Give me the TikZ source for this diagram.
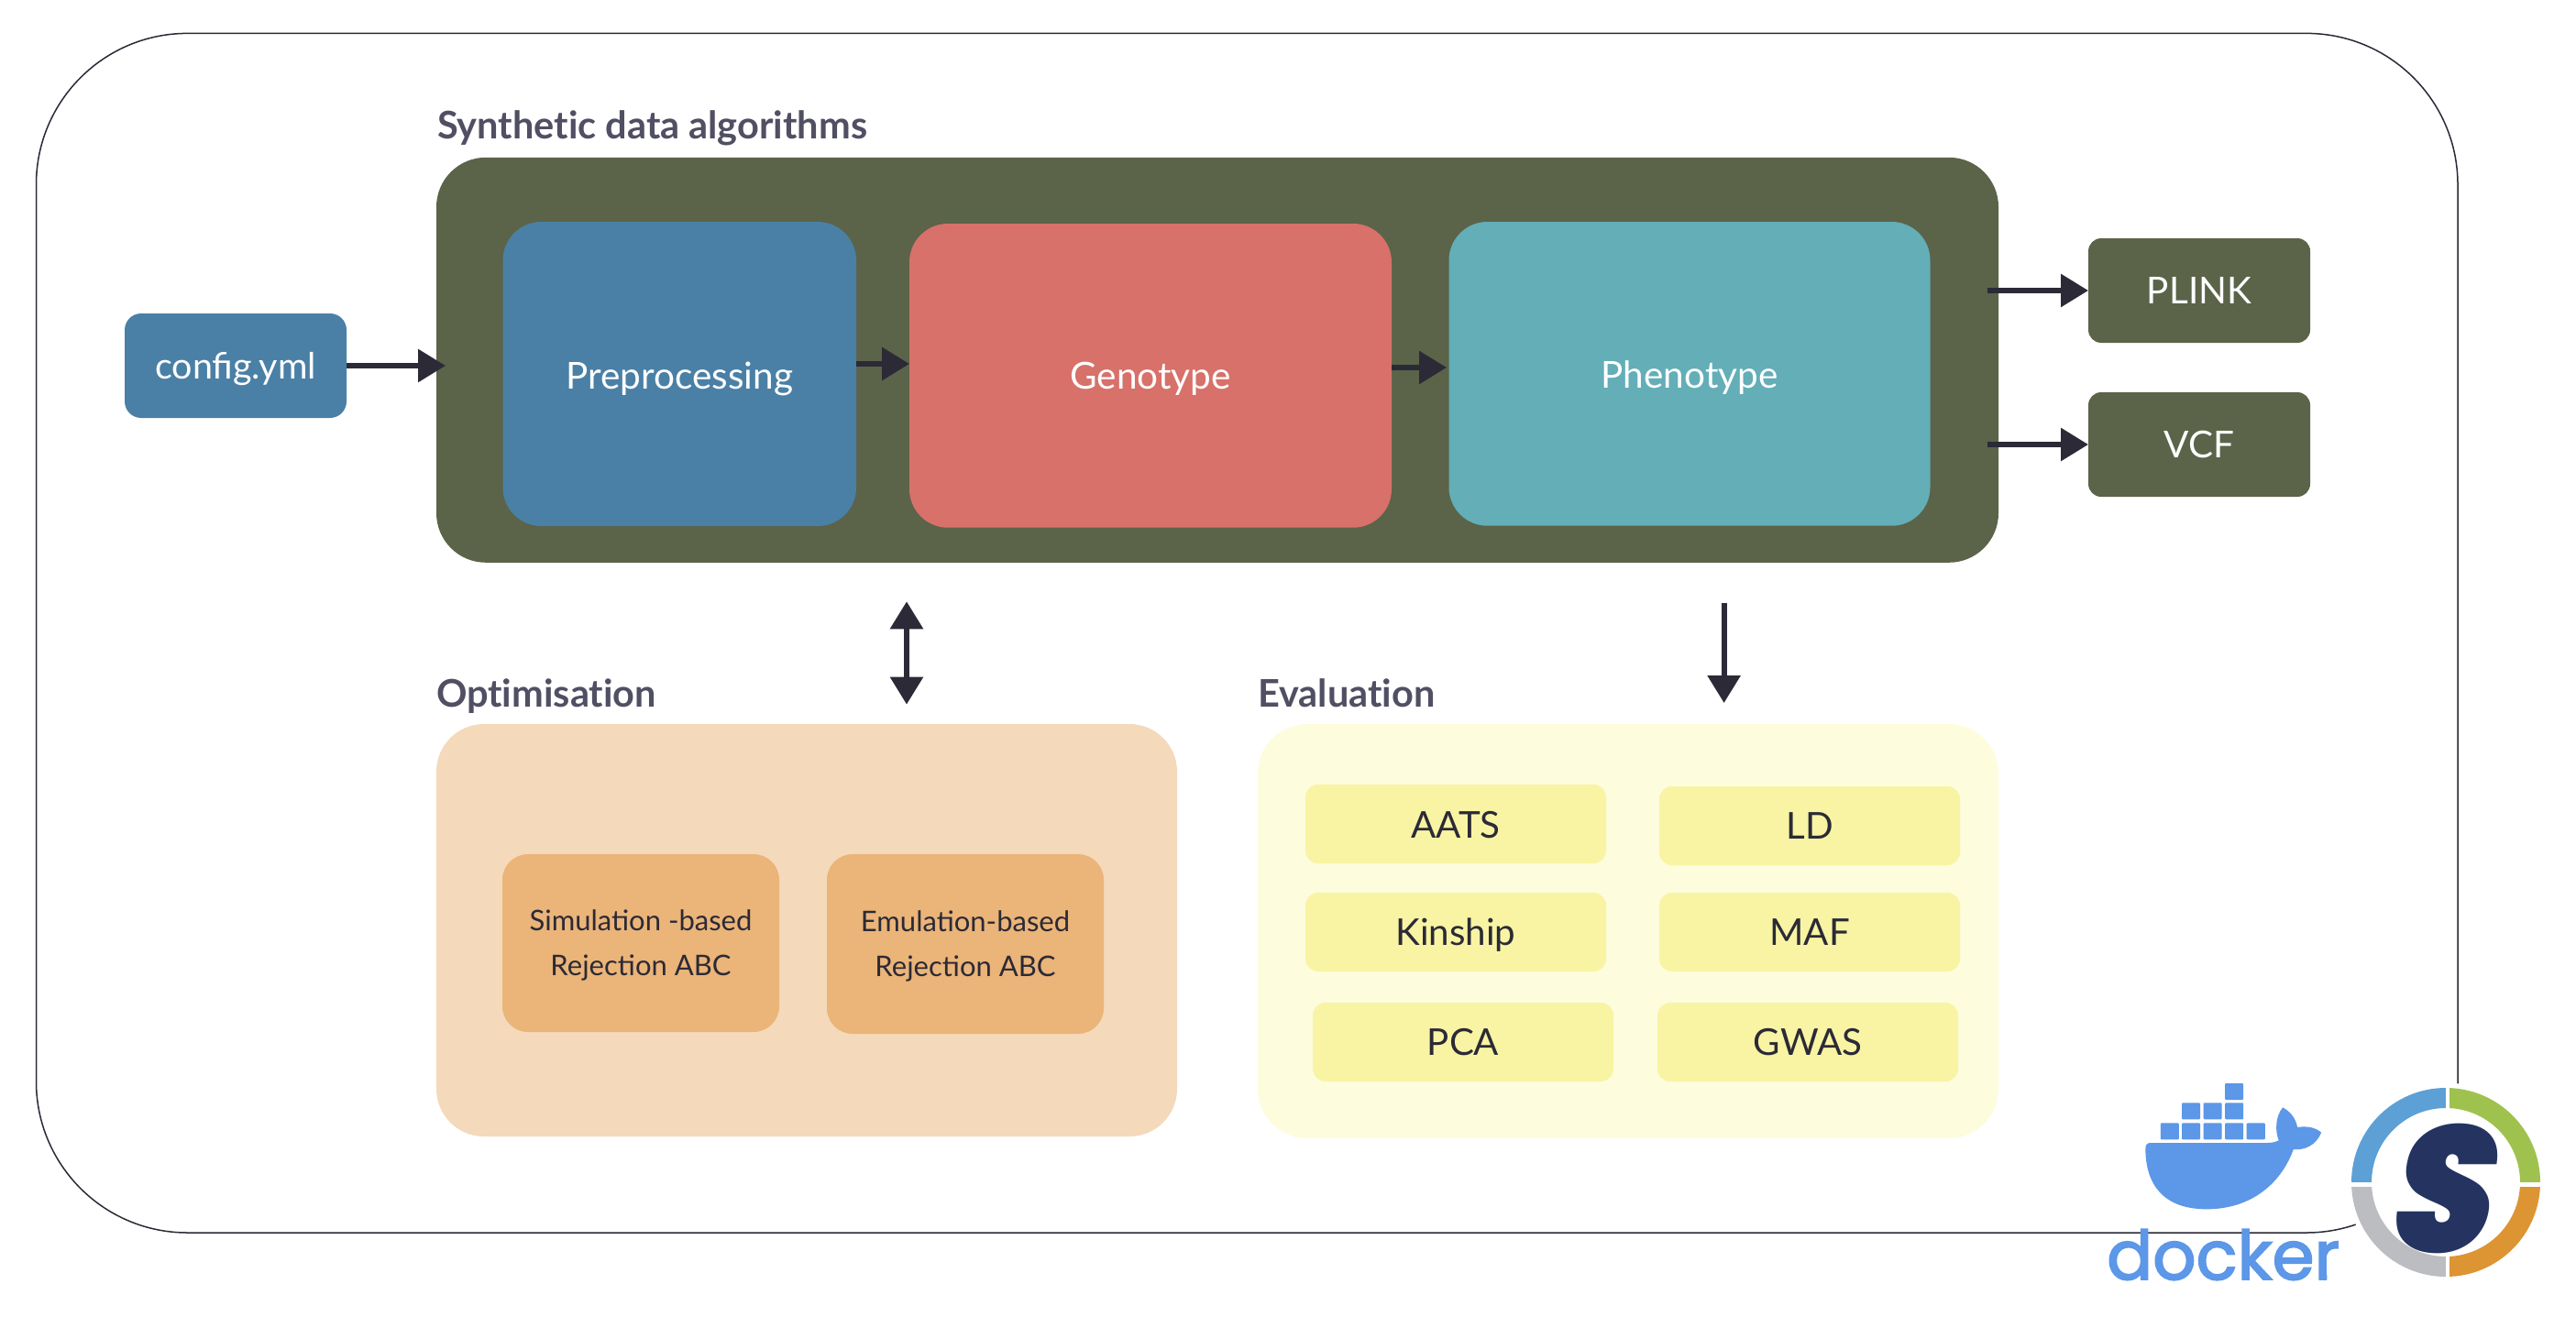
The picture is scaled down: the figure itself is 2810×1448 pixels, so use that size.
\documentclass[tikz,border=0pt]{standalone}
\usepackage{fontspec}
\setmainfont{Lato}
\newfontfamily\dockerfont{Poppins}[FakeBold=2.4]
\newfontfamily\snakefont{Poppins Black}[FakeSlant=0.2,FakeStretch=0.9]
\usetikzlibrary{arrows.meta,calc}
\definecolor{olive}{HTML}{5B6349}
\definecolor{steel}{HTML}{4A80A6}
\definecolor{coral}{HTML}{D7716A}
\definecolor{teal2}{HTML}{63AEB7}
\definecolor{peach}{HTML}{F4D9BA}
\definecolor{peachbox}{HTML}{EBB478}
\definecolor{paleyellow}{HTML}{FDFCDD}
\definecolor{yellowbox}{HTML}{F8F4A3}
\definecolor{ink}{HTML}{2B2A36}
\definecolor{titlegray}{HTML}{504F63}
\definecolor{dockerblue}{HTML}{5C97E8}
\definecolor{snakenavy}{HTML}{243360}
\definecolor{ringblue}{HTML}{5CA0D6}
\definecolor{ringgreen}{HTML}{9FC24F}
\definecolor{ringgray}{HTML}{BCBDC1}
\definecolor{ringorange}{HTML}{DD9433}
\tikzset{
  boxst/.style={inner sep=0pt,outer sep=0pt,align=center,text depth=0pt},
  bigw/.style={boxst,text=white,font=\fontsize{40.5}{49}\selectfont},
  evalbox/.style={boxst,fill=yellowbox,rounded corners=14pt,minimum width=328pt,minimum height=86pt,text=ink,font=\fontsize{40.3}{49}\selectfont},
  optbox/.style={boxst,fill=peachbox,rounded corners=28pt,minimum width=302pt,text=ink,font=\fontsize{31}{49}\selectfont,text height=71pt},
  titlest/.style={inner sep=0pt,outer sep=0pt,anchor=base west,text=titlegray,font=\fontsize{41.5}{46}\selectfont\bfseries\addfontfeature{Ligatures=NoCommon}},
  conn/.style={draw=ink,line width=6pt,-{Triangle[length=30pt,width=35pt]}},
  conntwo/.style={draw=ink,line width=6pt,{Triangle[length=30pt,width=35pt]}-{Triangle[length=30pt,width=35pt]}},
}
\begin{document}
\begin{tikzpicture}[x=1pt,y=-1pt]
\useasboundingbox (0,0) rectangle (2810,1448);
\fill[white] (0,0) rectangle (2810,1448);
% outer frame
\node[draw=ink,line width=1.5pt,rounded corners=165pt,inner sep=0pt,outer sep=0pt,minimum width=2641.5pt,minimum height=1308.6pt] (frame) at (1360.25,690.7) {};
% titles
\node[titlest] (tsyn) at (477,151.5) {Synthetic data algorithms};
\node[titlest] (topt) at (476,771.5) {Optimisation};
\node[titlest] (teval) at (1372,771.5) {Evaluation};
% main
\node[boxst,fill=olive,rounded corners=54pt,minimum width=1704pt,minimum height=442pt] (main) at (1328,392.8) {};
\node[bigw,fill=steel,rounded corners=18pt,minimum width=242pt,minimum height=114pt,text height=28pt,font=\fontsize{39.5}{49}\selectfont] (config) at (257,399) {config.yml};
\node[bigw,fill=steel,rounded corners=42pt,minimum width=385.5pt,minimum height=332pt,text height=32pt] (prep) at (741.25,408) {Preprocessing};
\node[bigw,fill=coral,rounded corners=42pt,minimum width=526pt,minimum height=331.7pt,text height=30pt] (geno) at (1255,409.85) {Genotype};
\node[bigw,fill=teal2,rounded corners=42pt,minimum width=525pt,minimum height=331.7pt,text height=32pt] (pheno) at (1843,407.85) {Phenotype};
\node[bigw,fill=olive,rounded corners=14pt,minimum width=242pt,minimum height=114pt,text height=29pt] (plink) at (2399,317) {PLINK};
\node[bigw,fill=olive,rounded corners=14pt,minimum width=242pt,minimum height=114pt,text height=29pt] (vcf) at (2399,485) {VCF};
% optimisation
\node[boxst,fill=peach,rounded corners=52pt,minimum width=808pt,minimum height=450pt] (optim) at (880,1015) {};
\node[optbox,minimum height=194pt] (sim) at (699,1029) {Simulation -based\\Rejection ABC};
\node[optbox,minimum height=196pt] (emu) at (1053,1030) {Emulation-based\\Rejection ABC};
% evaluation
\node[boxst,fill=paleyellow,rounded corners=54pt,minimum width=808pt,minimum height=452pt] (evalu) at (1776,1016) {};
\node[evalbox,text height=30pt] (aats) at (1588,899) {AATS};
\node[evalbox,text height=28pt] (ld) at (1974,901) {LD};
\node[evalbox,text height=29pt] (kin) at (1588,1017) {Kinship};
\node[evalbox,text height=29pt] (maf) at (1974,1017) {MAF};
\node[evalbox,text height=28pt] (pca) at (1596,1137) {PCA};
\node[evalbox,text height=28pt] (gwas) at (1972,1137) {GWAS};
% connectors
\coordinate (ypg) at (0,397);
\coordinate (ygp) at (0,401);
\coordinate (xopt) at (989,0);
\coordinate (xeval) at (1880.6,0);
\draw[conn,shorten >=-10pt] (config.east) -- (main.west |- config.east);
\draw[conn] (prep.east |- ypg) -- (geno.west |- ypg);
\draw[conn,shorten >=2.5pt] (geno.east |- ygp) -- (pheno.west |- ygp);
\draw[conn,shorten <=-12pt] (main.east |- plink.west) -- (plink.west);
\draw[conn,shorten <=-12pt] (main.east |- vcf.west) -- (vcf.west);
\draw[conntwo,shorten <=42.5pt,shorten >=21.4pt] (main.south -| xopt) -- (optim.north -| xopt);
\draw[conn,shorten <=44.5pt,shorten >=23pt] (main.south -| xeval) -- (evalu.north -| xeval);
% snakemake logo
\fill[white] (2668,1290) circle[radius=108.5];
\draw[ringorange,line width=22pt] (2668,1290) ++(0:92) arc[start angle=0,end angle=90,radius=92];
\draw[ringgray,line width=22pt] (2668,1290) ++(90:92) arc[start angle=90,end angle=180,radius=92];
\draw[ringblue,line width=22pt] (2668,1290) ++(180:92) arc[start angle=180,end angle=270,radius=92];
\draw[ringgreen,line width=22pt] (2668,1290) ++(270:92) arc[start angle=270,end angle=360,radius=92];
\draw[white,line width=4.5pt] (2670,1175) -- (2670,1405);
\draw[white,line width=4.5pt] (2555,1292.7) -- (2785,1292.7);
\node[inner sep=0pt,text=snakenavy,font=\fontsize{195}{195}\snakefont] (snake) at (2656,1297) {S};
% docker logo
\begin{scope}[shift={(2250,1150)},x=0.357143pt,y=-0.33333pt]
\fill[dockerblue] (253,310) .. controls (253,298) and (258,291) .. (268,291) -- (625,291)
  .. controls (640,291) and (650,288) .. (660,283)
  .. controls (648,250) and (650,205) .. (672,175)
  .. controls (695,188) and (712,210) .. (717,240)
  .. controls (745,235) and (772,240) .. (790,257)
  .. controls (775,298) and (740,316) .. (705,312)
  .. controls (665,430) and (570,508) .. (440,508)
  .. controls (310,508) and (253,430) .. (253,310) -- cycle;
\foreach \cx/\cy in {299/226,364/226,430/226,496/226,562/226,364/160,430/160,496/160,496/96}
  \fill[dockerblue,rounded corners=1pt] (\cx,\cy) rectangle ++(56,54);
\end{scope}
\node[inner sep=0pt,anchor=base west,text=dockerblue,font=\fontsize{74}{74}\dockerfont] (dockertxt) at (2298,1396) {docker};
\node[inner sep=0pt,text=dockerblue,font=\fontsize{9}{9}\selectfont] (dockerreg) at (2536,1394) {®};
\end{tikzpicture}
\end{document}
